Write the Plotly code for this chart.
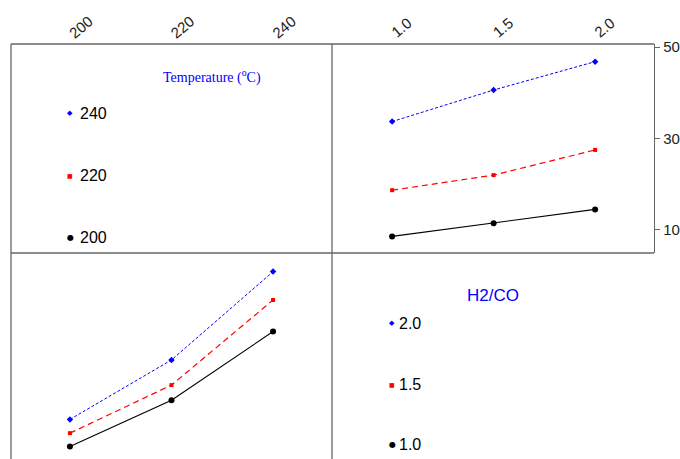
import plotly.graph_objects as go

# ---- data ----
temps = [200, 220, 240]
ratios = [1.0, 1.5, 2.0]
temp_labels = ["200", "220", "240"]
ratio_labels = ["1.0", "1.5", "2.0"]
# mean response, rows = temperature, columns = H2/CO ratio
y_T200 = [8.6, 11.5, 14.5]
y_T220 = [18.7, 22.0, 27.5]
y_T240 = [33.7, 40.6, 46.8]
y_ticks = [10, 30, 50]

rows = [y_T200, y_T220, y_T240]
colors = ["black", "red", "blue"]
dashes = ["solid", "6px,4px", "3px,2px"]
symbols = ["circle", "square", "diamond"]
msizes = [6, 4, 5]
widths = [1.1, 1.2, 1.0]

W, H = 680, 459
L, R, T, B = 11, 654, 44, 459
def px(x):
    return (x - L) / (R - L)
def py(y):
    return (B - y) / (B - T)

xmid = px(332)
ymid = py(253)

fig = go.Figure()

# top-right: response vs H2/CO, one line per temperature
for i, t in enumerate(temps):
    fig.add_trace(go.Scatter(
        x=ratios, y=rows[i], mode="lines+markers", xaxis="x2", yaxis="y2",
        line=dict(color=colors[i], dash=dashes[i], width=widths[i]),
        marker=dict(color=colors[i], symbol=symbols[i], size=msizes[i]),
        showlegend=False, name=str(t)))

# bottom-left: response vs temperature, one line per H2/CO
for j, r in enumerate(ratios):
    col = [rows[i][j] for i in range(len(temps))]
    fig.add_trace(go.Scatter(
        x=temps, y=col, mode="lines+markers", xaxis="x", yaxis="y3",
        line=dict(color=colors[j], dash=dashes[j], width=widths[j]),
        marker=dict(color=colors[j], symbol=symbols[j], size=msizes[j]),
        showlegend=False, name=str(r)))

tickfont = dict(family="Liberation Sans, Arial", size=15, color="#222")
frame = "#666"

fig.update_layout(
    width=W, height=H,
    margin=dict(l=L, r=W - R, t=T, b=0),
    paper_bgcolor="white", plot_bgcolor="white",
    xaxis=dict(domain=[0, xmid], range=[188.4, 251.6], side="top",
               anchor="free", position=1,
               tickvals=temps, ticktext=temp_labels, tickangle=-40,
               showgrid=False, zeroline=False, showline=False, ticks="",
               tickfont=tickfont),
    xaxis2=dict(domain=[xmid, 1], range=[0.704, 2.29], side="top", anchor="y2",
                tickvals=ratios, ticktext=ratio_labels, tickangle=-40,
                showgrid=False, zeroline=False, showline=False, ticks="",
                tickfont=tickfont),
    yaxis2=dict(domain=[ymid, 1], range=[4.97, 50.66], side="right", anchor="x2",
                tickvals=y_ticks, showgrid=False, zeroline=False,
                showline=True, linecolor=frame, linewidth=1.3,
                ticks="outside", ticklen=5, tickcolor=frame, tickfont=tickfont),
    yaxis3=dict(domain=[0, ymid], range=[5.85, 50.87], anchor="x", visible=False),
    xaxis4=dict(domain=[xmid, 1], range=[0.704, 2.29], anchor="y4", visible=False),
    yaxis4=dict(domain=[0, ymid], range=[5.85, 50.87], side="right", anchor="x4",
                tickvals=y_ticks, showgrid=False, zeroline=False,
                showline=True, linecolor=frame, linewidth=1.3,
                ticks="outside", ticklen=5, tickcolor=frame, tickfont=tickfont),
)

# frame lines
line = dict(color=frame, width=1.3)
fig.add_shape(type="line", xref="paper", yref="paper", x0=0, x1=1, y0=1, y1=1, line=line)
fig.add_shape(type="line", xref="paper", yref="paper", x0=0, x1=0, y0=0, y1=1, line=line)
fig.add_shape(type="line", xref="paper", yref="paper", x0=xmid, x1=xmid, y0=0, y1=1, line=line)
fig.add_shape(type="line", xref="paper", yref="paper", x0=0, x1=1, y0=ymid, y1=ymid, line=line)

# legend panels
def note(x, y, text, font, xanchor="center"):
    fig.add_annotation(x=px(x), y=py(y), xref="paper", yref="paper", showarrow=False,
                       text=text, xanchor=xanchor, yanchor="middle", font=font)

note(212, 76, "Temperature (<sup>o</sup>C)",
     dict(family="Liberation Serif, Times New Roman", size=14, color="blue"))
note(493, 295, "H2/CO", dict(family="Liberation Sans, Arial", size=17, color="blue"))

key_y_temp = [237, 175, 113]
key_y_ratio = [444, 384, 323]
glyphs = ["●", "■", "◆"]
gsize = [8, 6, 7]
labfont = dict(family="Liberation Sans, Arial", size=16, color="black")
for i in range(3):
    note(70, key_y_temp[i], glyphs[i],
         dict(family="DejaVu Sans", size=gsize[i], color=colors[i]))
    note(78, key_y_temp[i], temp_labels[i], labfont, xanchor="left")
    note(392, key_y_ratio[i], glyphs[i],
         dict(family="DejaVu Sans", size=gsize[i], color=colors[i]))
    note(397, key_y_ratio[i], ratio_labels[i], labfont, xanchor="left")

fig.write_html("out.html")
